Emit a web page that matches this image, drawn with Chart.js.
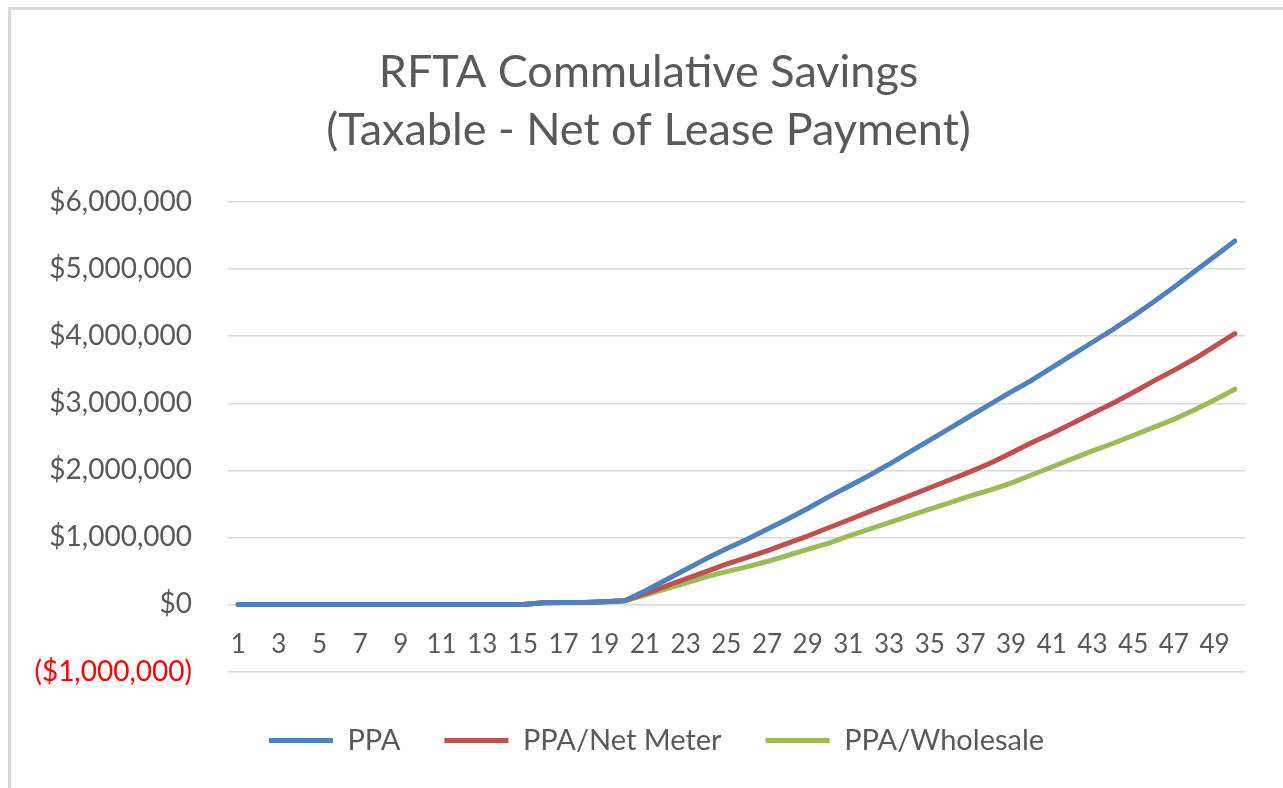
<!DOCTYPE html>
<html>
<head>
<meta charset="utf-8">
<script src="https://cdn.jsdelivr.net/npm/chart.js@4"></script>
<style>
  html, body { margin: 0; padding: 0; background: #fff; }
  #wrap { position: relative; width: 1283px; height: 788px; overflow: hidden; }
  #frame { position: absolute; left: 8px; top: 7px; width: 1400px; height: 900px;
           border-left: 3px solid #d9d9d9; border-top: 3px solid #d9d9d9; pointer-events: none; }
</style>
</head>
<body>
<div id="wrap">
  <canvas id="savings" width="1283" height="788"></canvas>
  <div id="frame"></div>
</div>
<script>
// years of the lease
const years = ['1','2','3','4','5','6','7','8','9','10','11','12','13','14','15','16','17','18','19','20',
  '21','22','23','24','25','26','27','28','29','30','31','32','33','34','35','36','37','38','39','40',
  '41','42','43','44','45','46','47','48','49','50'];

// cumulative savings, dollars
const ppa = [0,0,0,0,0,0,0,0,0,0,0,0,0,0,0,25000,28000,30000,40000,55000,
  200000,360000,520000,680000,830000,970000,1120000,1270000,1430000,1600000,
  1760000,1920000,2090000,2270000,2450000,2630000,2810000,2990000,3170000,3340000,
  3530000,3720000,3910000,4100000,4300000,4510000,4730000,4960000,5190000,5420000];
const ppaNetMeter = [0,0,0,0,0,0,0,0,0,0,0,0,0,0,0,25000,28000,30000,40000,55000,
  160000,270000,380000,490000,600000,700000,800000,910000,1020000,1140000,
  1260000,1380000,1500000,1620000,1740000,1860000,1980000,2110000,2260000,2410000,
  2550000,2700000,2850000,3000000,3160000,3330000,3490000,3660000,3850000,4040000];
const ppaWholesale = [0,0,0,0,0,0,0,0,0,0,0,0,0,0,0,25000,28000,30000,40000,55000,
  140000,230000,320000,410000,490000,560000,640000,730000,820000,910000,
  1020000,1120000,1220000,1320000,1420000,1520000,1620000,1710000,1810000,1930000,
  2050000,2170000,2290000,2400000,2520000,2640000,2760000,2900000,3050000,3210000];

const yMin = -1000000, yMax = 6000000, yStep = 1000000;

const grey = '#595959';
const fontFam = 'Lato, "Open Sans", sans-serif';

function money(v) {
  const s = '$' + Math.abs(v).toLocaleString('en-US');
  return v < 0 ? '(' + s + ')' : s;
}

const line = (label, data, color) => ({
  label: label,
  data: data,
  borderColor: color,
  backgroundColor: color,
  borderWidth: 5,
  borderCapStyle: 'round',
  borderJoinStyle: 'round',
  pointRadius: 0,
  tension: 0,
  fill: false
});

// title and legend sit a bit right of the canvas centre in the original
const nudge = {
  id: 'nudge',
  afterLayout(c) {
    c.titleBlock.left += 11; c.titleBlock.right += 11;
    c.legend.left += 19; c.legend.right += 19;
  }
};

const ctx = document.getElementById('savings').getContext('2d');
const chart = new Chart(ctx, {
  type: 'line',
  data: {
    labels: years,
    datasets: [
      line('PPA', ppa, '#4f81bd'),
      line('PPA/Net Meter', ppaNetMeter, '#c0504d'),
      line('PPA/Wholesale', ppaWholesale, '#9bbb59')
    ]
  },
  plugins: [nudge],
  options: {
    responsive: false,
    animation: false,
    layout: { padding: { left: 30, right: 38, top: 43, bottom: 23 } },
    plugins: {
      tooltip: { enabled: false },
      title: {
        display: true,
        text: ['RFTA Commulative Savings', '(Taxable - Net of Lease Payment)'],
        color: grey,
        font: { family: fontFam, size: 45, weight: 'normal', lineHeight: 1.29 },
        padding: { top: 0, bottom: 43 }
      },
      legend: {
        position: 'bottom',
        title: { display: true, text: '', font: { size: 10, lineHeight: 1.05 }, padding: 0 },
        labels: {
          color: grey,
          font: { family: fontFam, size: 29 },
          usePointStyle: true,
          pointStyle: 'line',
          pointStyleWidth: 64,
          padding: 44
        }
      }
    },
    scales: {
      x: {
        position: { y: 0 },
        offset: true,
        grid: { display: false, drawTicks: false },
        border: { display: false },
        ticks: {
          color: grey,
          font: { family: fontFam, size: 26 },
          autoSkip: false,
          maxRotation: 0,
          padding: 25,
          callback: function (v, i) { return i % 2 === 0 ? this.getLabelForValue(v) : ''; }
        }
      },
      y: {
        min: yMin,
        max: yMax,
        afterFit: s => { s.width = 198; },
        grid: { color: '#d9d9d9', lineWidth: 1.5, drawTicks: false },
        border: { display: false },
        ticks: {
          stepSize: yStep,
          padding: 36,
          font: { family: fontFam, size: 28 },
          color: c => c.tick.value < 0 ? '#ff0000' : grey,
          callback: v => money(v)
        }
      }
    }
  }
});
</script>
</body>
</html>
